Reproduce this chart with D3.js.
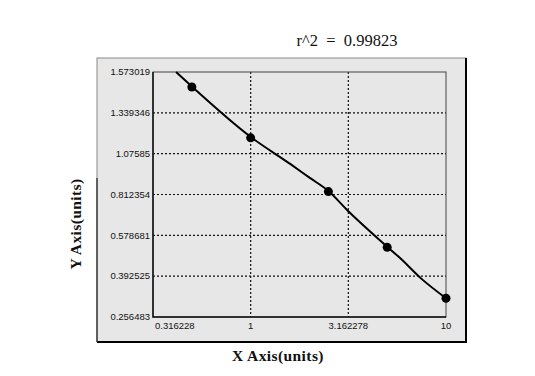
<!DOCTYPE html>
<html>
<head>
<meta charset="utf-8">
<script src="https://cdn.jsdelivr.net/npm/d3@7"></script>
<style>
  body { margin: 0; background: #fff; }
  .tick-label { font-family: "Liberation Sans", Arial, sans-serif; font-size: 9.5px; fill: #111; }
  .axis-title { font-family: "Liberation Serif", "Times New Roman", serif; font-weight: bold; font-size: 15.5px; fill: #111; }
</style>
</head>
<body>
<div id="chart"></div>
<script>
// ticks
var xTicks = [0.316228, 1, 3.162278, 10];
var yTicks = [0.256483, 0.392525, 0.578681, 0.812354, 1.07585, 1.339346, 1.573019];
var yTickLabels = ["0.256483", "0.392525", "0.578681", "0.812354", "1.07585", "1.339346", "1.573019"];
var xTickLabels = ["0.316228", "1", "3.162278", "10"];

// standards
var ptX = [0.5, 1, 2.5, 5, 10];
var ptY = [1.487, 1.178, 0.831, 0.524, 0.319];

// fitted curve, as drawn
var fitX = [0.415, 0.5, 1, 1.6, 2, 2.5, 3.162, 5, 5.82, 7.5, 10];
var fitY = [1.573, 1.49, 1.184, 1.008, 0.921, 0.835, 0.717, 0.527, 0.475, 0.3835, 0.319];

var rsq = "r^2  =  0.99823";

function chart() {
    const width = 535, height = 376;
    const panel = {left: 97, top: 58, right: 466, bottom: 342};
    const plot = {left: 153, top: 72, right: 446, bottom: 317};

    const svg = d3.select("#chart").append("svg")
        .attr("width", width)
        .attr("height", height);

    const x = d3.scaleLog()
        .domain([xTicks[0], xTicks[xTicks.length - 1]])
        .range([plot.left, plot.right]);

    // y ticks sit evenly spaced, so a piecewise linear scale over them
    const step = (plot.bottom - plot.top) / (yTicks.length - 1);
    const y = d3.scaleLinear()
        .domain(yTicks)
        .range(yTicks.map((d, i) => plot.bottom - i * step));

    // grey panel
    svg.append("rect")
        .attr("x", panel.left).attr("y", panel.top)
        .attr("width", panel.right - panel.left)
        .attr("height", panel.bottom - panel.top)
        .attr("fill", "#e7e7e7")
        .attr("stroke", "#8a8a8a")
        .attr("stroke-width", 1);
    // darker right and bottom edges
    svg.append("path")
        .attr("d", `M${panel.right},${panel.top}V${panel.bottom}H${panel.left}`)
        .attr("fill", "none")
        .attr("stroke", "#000")
        .attr("stroke-width", 2);
    svg.append("line")
        .attr("x1", panel.left).attr("x2", panel.left)
        .attr("y1", 178).attr("y2", panel.bottom)
        .attr("stroke", "#222").attr("stroke-width", 1.2);

    // grid
    const grid = svg.append("g")
        .attr("stroke", "#111")
        .attr("stroke-width", 1.2)
        .attr("stroke-dasharray", "2,2");
    grid.selectAll("line.h")
        .data(yTicks.slice(1, -1))
        .enter().append("line")
        .attr("x1", plot.left).attr("x2", plot.right)
        .attr("y1", d => y(d)).attr("y2", d => y(d));
    grid.selectAll("line.v")
        .data(xTicks.slice(1, -1))
        .enter().append("line")
        .attr("y1", plot.top).attr("y2", plot.bottom)
        .attr("x1", d => x(d)).attr("x2", d => x(d));

    // plot frame
    svg.append("rect")
        .attr("x", plot.left).attr("y", plot.top)
        .attr("width", plot.right - plot.left)
        .attr("height", plot.bottom - plot.top)
        .attr("fill", "none")
        .attr("stroke", "#444")
        .attr("stroke-width", 1);
    svg.append("path")
        .attr("d", `M${plot.left},${plot.top}V${plot.bottom}H${plot.right}`)
        .attr("fill", "none")
        .attr("stroke", "#111")
        .attr("stroke-width", 1.5);

    // y tick labels
    svg.selectAll("text.ylab")
        .data(yTicks)
        .enter().append("text")
        .attr("class", "tick-label")
        .attr("x", plot.left - 3)
        .attr("y", d => y(d))
        .attr("dy", "0.35em")
        .attr("text-anchor", "end")
        .text((d, i) => yTickLabels[i]);

    // x tick labels
    svg.selectAll("text.xlab")
        .data(xTicks)
        .enter().append("text")
        .attr("class", "tick-label")
        .attr("x", d => x(d))
        .attr("y", plot.bottom + 12)
        .attr("text-anchor", (d, i) => i == 0 ? "start" : "middle")
        .attr("dx", (d, i) => i == 0 ? 2 : 0)
        .text((d, i) => xTickLabels[i]);

    // fitted curve
    const line = d3.line()
        .x(d => x(d[0]))
        .y(d => y(d[1]))
        .curve(d3.curveMonotoneX);
    svg.append("path")
        .datum(fitX.map((d, i) => [d, fitY[i]]))
        .attr("d", line)
        .attr("fill", "none")
        .attr("stroke", "#000")
        .attr("stroke-width", 2);

    // points
    svg.selectAll("circle")
        .data(ptX.map((d, i) => [d, ptY[i]]))
        .enter().append("circle")
        .attr("cx", d => x(d[0]))
        .attr("cy", d => y(d[1]))
        .attr("r", 4.5)
        .attr("fill", "#000");

    // titles
    svg.append("text")
        .attr("x", 347).attr("y", 46)
        .attr("text-anchor", "middle")
        .style("font-family", "'Liberation Serif', 'Times New Roman', serif")
        .style("font-size", "16.5px")
        .style("white-space", "pre")
        .attr("fill", "#111")
        .text(rsq);

    svg.append("text")
        .attr("class", "axis-title")
        .attr("x", 278).attr("y", 361)
        .attr("text-anchor", "middle")
        .style("letter-spacing", "0.4px")
        .text("X Axis(units)");

    svg.append("text")
        .attr("class", "axis-title")
        .attr("transform", "translate(81,224) rotate(-90)")
        .attr("text-anchor", "middle")
        .style("letter-spacing", "0.4px")
        .text("Y Axis(units)");
}

chart();
</script>
</body>
</html>
